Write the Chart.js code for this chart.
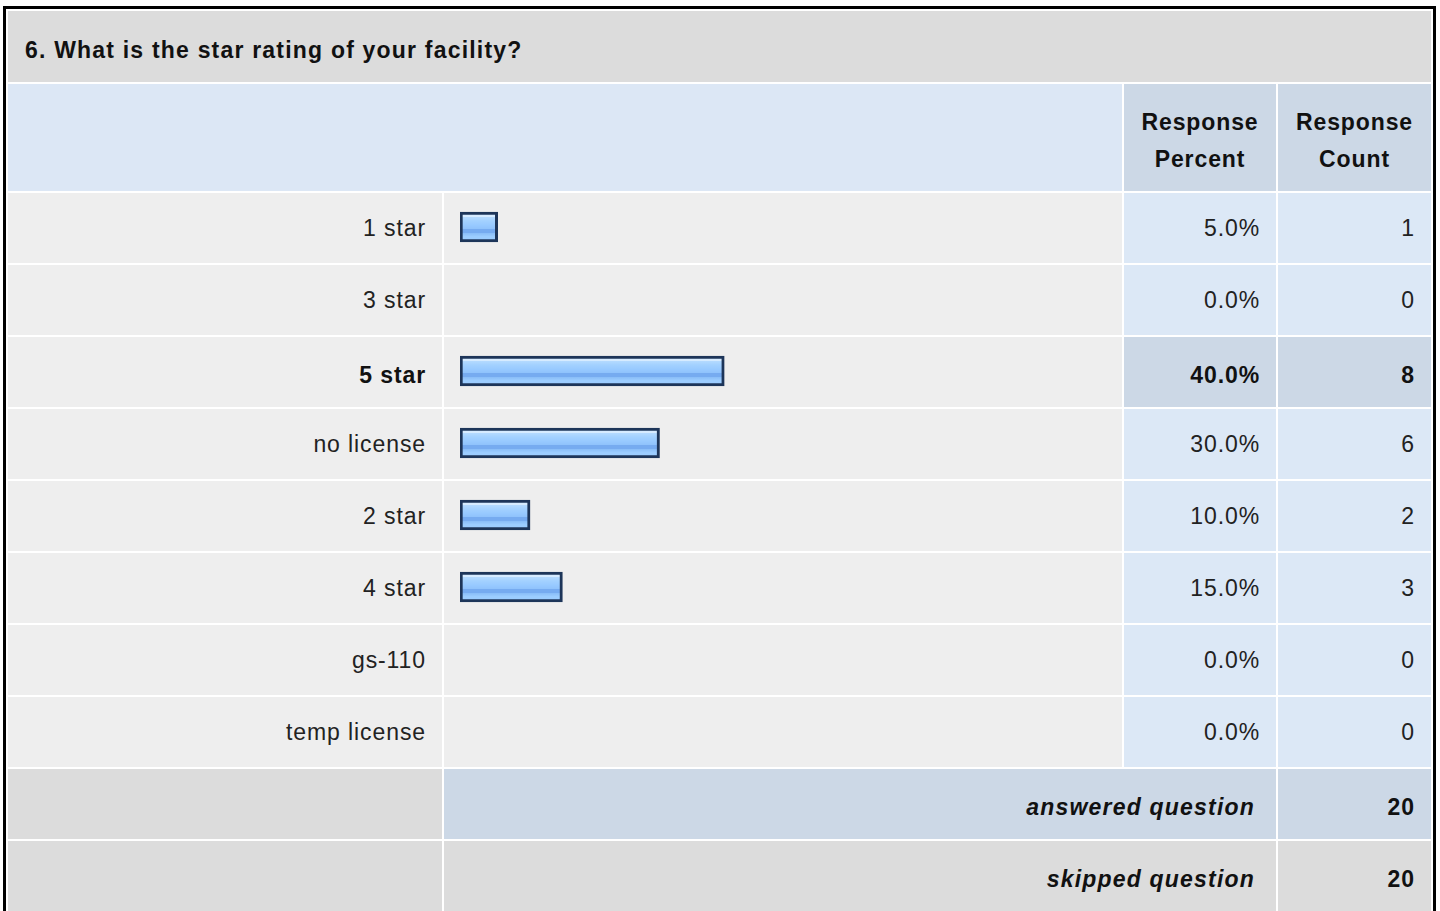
<!DOCTYPE html>
<html>
<head>
<meta charset="utf-8">
<script src="https://cdn.jsdelivr.net/npm/chart.js@4"></script>
<style>
  body { margin: 0; background: #fff; font-family: "Liberation Sans", Arial, sans-serif; }
  #survey {
    position: absolute; left: 3px; top: 6px;
    border: 3px solid #000; padding: 2px; background: #fff;
    display: grid; gap: 2px;
    grid-template-columns: 434px 678px 152px 153px;
    grid-template-rows: 71px 107px repeat(10, 70px);
    font-size: 23px; letter-spacing: 0.9px; color: #222;
  }
  #survey div { display: flex; align-items: center; box-sizing: border-box; }
  .title { grid-column: 1 / span 4; background: #dcdcdc; font-weight: bold; color: #111; padding-left: 17px; padding-top: 8px; letter-spacing: 1.2px; }
  .head { background: #dce7f5; }
  .headcol { background: #ccd8e6; font-weight: bold; color: #111; justify-content: center; text-align: center; line-height: 37px; padding-top: 6px; }
  .lab { background: #eeeeee; justify-content: flex-end; padding-right: 16px; }
  .bar { background: #eeeeee; }
  .num { background: #dce8f6; justify-content: flex-end; padding-right: 16px; }
  .hl { background: #ccd8e6; font-weight: bold; color: #111; }
  .down { padding-top: 6px; }
  .foot { background: #dcdcdc; }
  .footmid { justify-content: flex-end; padding-right: 21px; font-weight: bold; font-style: italic; color: #111; padding-top: 6px; letter-spacing: 1.2px; }
  .footnum { justify-content: flex-end; padding-right: 16px; font-weight: bold; color: #111; padding-top: 6px; }
  #chartBox { position: absolute; left: 444px; top: 191px; width: 678px; height: 576px; pointer-events: none; }
</style>
</head>
<body>
<div id="survey"></div>
<div id="chartBox"><canvas id="bars" width="678" height="576"></canvas></div>
<script>
var question = '6. What is the star rating of your facility?';
var categories = ['1 star', '3 star', '5 star', 'no license', '2 star', '4 star', 'gs-110', 'temp license'];
var percents = [5.0, 0.0, 40.0, 30.0, 10.0, 15.0, 0.0, 0.0];
var counts = [1, 0, 8, 6, 2, 3, 0, 0];
var answered = 20;
var skipped = 20;

function init(){
    var grid = document.getElementById('survey');
    var html = '<div class="title">' + question + '</div>';
    html += '<div class="head" style="grid-column: 1 / span 2"></div>';
    html += '<div class="headcol">Response<br>Percent</div>';
    html += '<div class="headcol">Response<br>Count</div>';

    var top = Math.max.apply(null, counts);
    for (var i = 0; i < categories.length; i++) {
        var hl = counts[i] === top;
        html += '<div class="lab' + (hl ? ' down' : '') + '"' + (hl ? ' style="font-weight:bold;color:#111"' : '') + '>' + categories[i] + '</div>';
        html += '<div class="bar"></div>';
        html += '<div class="num' + (hl ? ' hl down' : '') + '">' + percents[i].toFixed(1) + '%</div>';
        html += '<div class="num' + (hl ? ' hl down' : '') + '">' + counts[i] + '</div>';
    }

    html += '<div class="foot"></div>';
    html += '<div class="footmid hl" style="grid-column: 2 / span 2">answered question</div>';
    html += '<div class="footnum hl">' + answered + '</div>';
    html += '<div class="foot"></div>';
    html += '<div class="footmid foot" style="grid-column: 2 / span 2">skipped question</div>';
    html += '<div class="footnum foot">' + skipped + '</div>';
    grid.innerHTML = html;

    // glossy blue fill, one gradient per bar
    function barFill(context){
        var chart = context.chart;
        var y = chart.scales.y;
        var mid = y ? y.getPixelForValue(context.dataIndex) : NaN;
        if (!isFinite(mid)) return '#93c6fd';
        var g = chart.ctx.createLinearGradient(0, mid - 15, 0, mid + 15);
        g.addColorStop(0.00, '#d6ebff');
        g.addColorStop(0.16, '#d6ebff');
        g.addColorStop(0.17, '#b4daff');
        g.addColorStop(0.30, '#a3d1ff');
        g.addColorStop(0.45, '#97c9ff');
        g.addColorStop(0.55, '#90c3fc');
        g.addColorStop(0.56, '#76abf0');
        g.addColorStop(0.70, '#76abf0');
        g.addColorStop(0.71, '#8abef8');
        g.addColorStop(0.82, '#9ccdff');
        g.addColorStop(1.00, '#9ccdff');
        return g;
    }

    var ctx = document.getElementById('bars').getContext('2d');
    var chart = new Chart(ctx, {
        type: 'bar',
        data: {
            labels: categories,
            datasets: [{
                data: percents.map(function(v){ return v > 0 ? v : null; }),
                base: -0.82,
                barThickness: 30,
                borderWidth: 3,
                borderColor: '#1d3559',
                borderSkipped: false,
                backgroundColor: barFill
            }]
        },
        options: {
            indexAxis: 'y',
            responsive: false,
            animation: false,
            layout: { padding: { left: 16, right: 9.3, top: 0, bottom: 0 } },
            plugins: { legend: { display: false }, tooltip: { enabled: false } },
            scales: {
                x: { type: 'linear', min: -0.82, max: 100, display: false },
                y: { display: false }
            }
        }
    });
}

window.onload = init;
</script>
</body>
</html>
